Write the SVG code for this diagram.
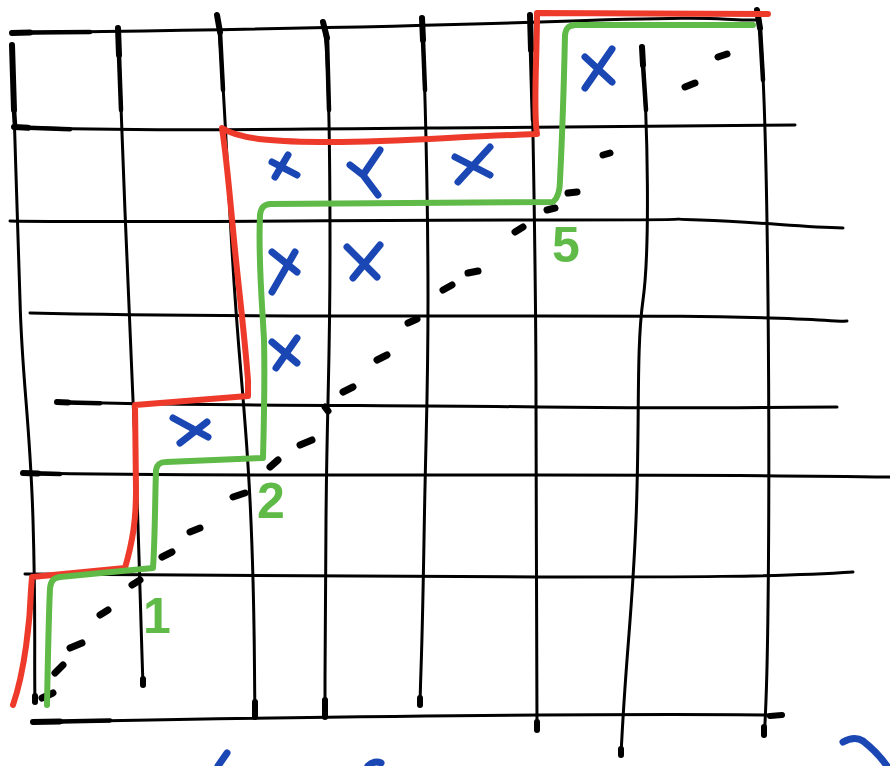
<svg xmlns="http://www.w3.org/2000/svg" width="890" height="766" viewBox="0 0 890 766">
<style>
.g{fill:none;stroke:#000;stroke-width:3;stroke-linecap:round;stroke-linejoin:round}
.t{fill:none;stroke:#000;stroke-width:6;stroke-linecap:round}
.m{fill:none;stroke:#000;stroke-width:4.5;stroke-linecap:round}
.d{fill:none;stroke:#000;stroke-width:7;stroke-linecap:round}
.r{fill:none;stroke:#ee3a2a;stroke-width:6;stroke-linecap:round;stroke-linejoin:round}
.gr{fill:none;stroke:#5fba47;stroke-width:6;stroke-linecap:round;stroke-linejoin:round}
.x{fill:none;stroke:#1a47b4;stroke-width:7;stroke-linecap:round;stroke-linejoin:round}
.lbl{font-family:"Liberation Sans",Arial,sans-serif;font-size:50px;font-weight:bold;fill:#5fba47;text-anchor:middle}
</style>
<rect width="890" height="766" fill="#fff"/>
<g id="grid">
<path class="g" d="M12,33 C120,31 330,29 540,22 S700,20 760,20"/>
<path class="g" d="M14,127 C120,131 220,130 440,128 S700,126 795,125"/>
<path class="g" d="M10,221 C120,223 330,220 540,220 S640,218 700,220 S800,227 843,228"/>
<path class="g" d="M30,313 C200,317 400,316 540,316 S700,316 770,318 S830,322 847,321"/>
<path class="g" d="M57,402 C200,406 400,405 540,407 S760,407 837,407"/>
<path class="g" d="M23,473 C200,476 400,475 540,475 S760,475 890,477"/>
<path class="g" d="M25,574 C200,575 400,577 540,577 S780,577 853,572"/>
<path class="g" d="M33,722 C150,720 350,716 540,715 S720,715 783,715"/>
<path class="g" d="M12,45 C14,127 18,220 20,300 S30,420 33,520 S34,660 35,702"/>
<path class="g" d="M118,28 C122,130 128,300 133,400 S140,600 143,685"/>
<path class="g" d="M217,15 C222,40 225,130 232,250 S245,400 250,500 S254,650 255,717"/>
<path class="g" d="M323,22 C328,40 330,130 330,250 S327,400 326,520 S325,660 325,717"/>
<path class="g" d="M422,18 C425,80 428,200 428,300 S426,420 424,540 S421,660 420,705"/>
<path class="g" d="M530,15 C533,100 536,300 536,400 S537,650 537,730"/>
<path class="g" d="M642,47 C648,125 650,250 643,300 S640,420 636,520 S626,650 621,755"/>
<path class="g" d="M757,10 C762,30 766,100 768,300 S768,650 766,700 S764,730 764,735"/>
<path class="t" d="M12,33 L30,32.5"/>
<path class="m" d="M30,32.5 L90,32"/>
<path class="t" d="M12,45 L14,110"/>
<path class="m" d="M14,110 L15,125"/>
<path class="t" d="M118,28 L119,55"/>
<path class="m" d="M119,55 L121,110"/>
<path class="t" d="M217,15 L220,32"/>
<path class="m" d="M220,32 L223,90"/>
<path class="t" d="M323,22 L327,38"/>
<path class="m" d="M327,38 L329,110"/>
<path class="t" d="M422,18 L423,40"/>
<path class="m" d="M423,40 L425,90"/>
<path class="t" d="M530,15 L531,50"/>
<path class="m" d="M531,50 L533,120"/>
<path class="t" d="M642,47 L643,65"/>
<path class="m" d="M643,65 L646,110"/>
<path class="t" d="M757,10 L760,28"/>
<path class="m" d="M760,28 L763,80"/>
<path class="t" d="M14,127 L28,127.8"/>
<path class="m" d="M28,127.8 L70,129.2"/>
<path class="t" d="M57,402 L68,402.4"/>
<path class="m" d="M68,402.4 L100,403.3"/>
<path class="t" d="M23,473 L38,473.5"/>
<path class="m" d="M38,473.5 L60,474"/>
<path class="t" d="M33,722 L60,721.4"/>
<path class="m" d="M60,721.4 L110,720.4"/>
<path class="t" d="M255,702 L255,717"/>
<path class="t" d="M325,700 L325,717"/>
<path class="t" d="M420,698 L420,705"/>
<path class="t" d="M537,722 L537,730"/>
<path class="t" d="M621,749 L621,755"/>
<path class="t" d="M764,727 L764,735"/>
<path class="t" d="M770,716 L782,715"/>
<path class="t" d="M143,679 L143,685"/>
<path class="t" d="M35,696 L35,702"/>
</g>
<g id="diagonal">
<path class="d" d="M42,698 L53,693 M55,673 L63,665 M70,648 L82,643 M100,615 L108,610 M132,585 L140,580 M162,557 L172,552 M190,532 L200,528 M233,497 L245,493 M270,467 L278,460 M300,445 L312,440 M325,407 L328,411 M343,392 L353,387 M377,360 L387,355 M408,323 L417,319 M443,290 L452,285 M468,273 L478,271 M515,232 L523,227 M547,210 L555,208 M568,193 L577,192 M603,155 L610,153 M685,87 L695,83 M718,57 L727,54"/>
</g>
<g id="connectors">
<path id="red-path" class="r" d="M13,705 C25,670 30,620 31,590 L32,577 L125,568 C133,540 136,520 136,490 L135,405 L248,396 L248,380 C244,330 240,300 235,250 C230,200 227,160 222,128 C240,140 280,142 330,142 C400,142 450,137 537,134 C533,110 537,60 537,13 L768,14"/>
<path id="green-path" class="gr" d="M47,705 C48,650 49,610 50,588 C51,580 54,578 60,577 L153,568 C155,540 155,500 156,470 C157,464 160,462 166,462 L263,458 C264,420 265,380 264,340 C262,300 258,260 260,215 C261,208 263,205 270,204 L553,202 C558,198 560,192 560,180 C562,140 564,80 565,35 C566,28 568,26 575,25 L753,25"/>
</g>
<g id="marks">
<path class="x" d="M272,162 L297,175 M288,155 L275,177"/>
<path class="x" d="M350,165 L363,175 L380,150 M363,175 L378,195"/>
<path class="x" d="M455,157 L490,175 M490,147 L458,182"/>
<path class="x" d="M585,57 L612,82 M612,49 L585,88"/>
<path class="x" d="M272,252 L297,272 M295,252 L272,292"/>
<path class="x" d="M347,247 L377,277 M380,245 L353,278"/>
<path class="x" d="M272,342 L297,363 M297,338 L276,368"/>
<path class="x" d="M173,418 L208,437 M207,422 L180,443"/>
<path class="x" d="M218,766 L227,753"/>
<path class="x" d="M368,766 C372,762 377,761 381,763"/>
<path class="x" d="M843,742 C850,738 857,737 863,741 C872,748 880,756 887,766"/>
</g>
<g id="labels">
<text class="lbl" x="157" y="633">1</text>
<text class="lbl" x="271" y="518">2</text>
<text class="lbl" x="566" y="262">5</text>
</g>
</svg>
